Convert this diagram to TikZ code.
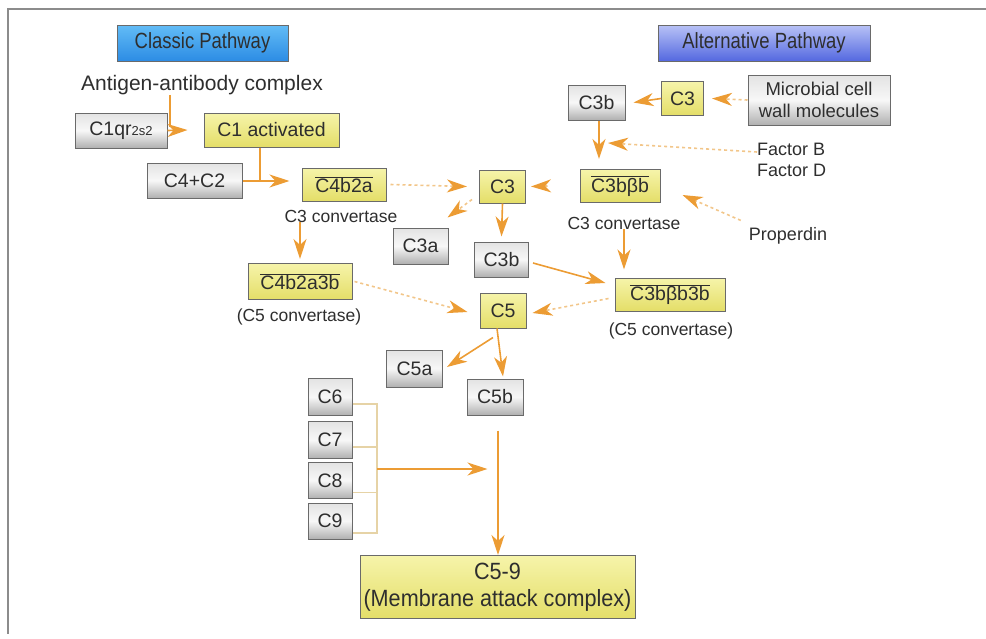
\documentclass[tikz,border=0pt]{standalone}
\usepackage{fontspec}
\setmainfont{Liberation Sans}
\newfontfamily\narrowfont[FakeStretch=0.84]{Liberation Sans}
\newfontfamily\macfont[FakeStretch=0.92]{Liberation Sans}
\usetikzlibrary{arrows.meta,calc}
\definecolor{arr}{HTML}{EC9C34}
\definecolor{arrpale}{HTML}{F2C68A}
\definecolor{brk}{HTML}{E6D3A6}
\definecolor{txt}{HTML}{2E2E2E}
\definecolor{edge}{HTML}{6A6A6A}
\definecolor{yelT}{HTML}{F6F4AA}
\definecolor{yelB}{HTML}{E4DE68}
\definecolor{frame}{HTML}{8C8C8C}
\definecolor{classT}{HTML}{62BCF6}
\definecolor{classB}{HTML}{2C8CE4}
\definecolor{altT}{HTML}{B8C2F6}
\definecolor{altB}{HTML}{5468E0}
\tikzset{
  basebox/.style={draw=edge, line width=1pt, inner sep=0pt, text=txt, align=center,
    font=\fontsize{19.5}{22}\selectfont},
  greybox/.style={basebox, top color=gray!22, bottom color=gray!62, middle color=white!94!gray},
  yelbox/.style={basebox, top color=yelT, bottom color=yelB},
  header/.style={draw=edge, line width=0.8pt, inner sep=0pt, text=txt,
    font=\narrowfont\fontsize{22}{24}\selectfont},
  label/.style={text=txt, inner sep=0pt, font=\fontsize{17.5}{20}\selectfont},
  tip/.style={-{Stealth[length=20pt,width=13pt,inset=6pt]}},
  conn/.style={draw=arr, line width=1.6pt, tip},
  faint/.style={draw=arrpale, line width=1.6pt, dash pattern=on 3pt off 3pt,
    -{Stealth[length=20pt,width=13pt,inset=6pt,color=arr]}},
  plain/.style={draw=arr, line width=1.6pt},
  bracket/.style={draw=brk, line width=1.3pt}
}
\newcommand{\ovl}[1]{$\overline{\mbox{#1}}$}
\begin{document}
\begin{tikzpicture}[x=1pt,y=-1pt]
\useasboundingbox (0,0) rectangle (986,638);
% page frame
\draw[frame, line width=2pt] (986,9) -- (8,9) -- (8,634);

% pathway headers
\node[header, top color=classT, bottom color=classB, minimum width=171pt, minimum height=36pt]
  (cp) at (202.5,43) {Classic Pathway};
\node[header, top color=altT, bottom color=altB, minimum width=212pt, minimum height=36pt]
  (ap) at (764,43) {Alternative Pathway};

% classic pathway
\node[label, font=\fontsize{21}{24}\selectfont] (ag) at (202,85) {Antigen-antibody complex};
\node[greybox, minimum width=92pt, minimum height=35pt] (c1q) at (121,130.5) {C1qr{\fontsize{13}{14}\selectfont 2s2}};
\node[yelbox, minimum width=135pt, minimum height=34pt] (c1a) at (271.5,130) {C1 activated};
\node[greybox, minimum width=95pt, minimum height=35pt] (c4c2) at (194.5,180.5) {C4+C2};
\node[yelbox, minimum width=84pt, minimum height=33pt] (c4b2a) at (344,184.5) {\ovl{C4b2a}};
\node[label] (cv1) at (341,216) {C3 convertase};
\node[yelbox, minimum width=104pt, minimum height=36pt] (c4b2a3b) at (300,281.5) {\ovl{C4b2a3b}};
\node[label] (cv5a) at (299,317) {(C5 convertase)};

% central cascade
\node[yelbox, minimum width=46pt, minimum height=33pt] (c3) at (502.5,186.5) {C3};
\node[greybox, minimum width=55pt, minimum height=36pt] (c3a) at (420.5,246) {C3a};
\node[greybox, minimum width=54pt, minimum height=35pt] (c3b) at (501.5,259.5) {C3b};
\node[yelbox, minimum width=46pt, minimum height=35pt] (c5) at (503,310.5) {C5};
\node[greybox, minimum width=56pt, minimum height=37pt] (c5a) at (414.5,368.5) {C5a};
\node[greybox, minimum width=56pt, minimum height=36pt] (c5b) at (495,397) {C5b};

% terminal components
\node[greybox, minimum width=44pt, minimum height=37pt] (c6) at (330,397) {C6};
\node[greybox, minimum width=44pt, minimum height=37pt] (c7) at (330,440) {C7};
\node[greybox, minimum width=44pt, minimum height=36pt] (c8) at (330,480.5) {C8};
\node[greybox, minimum width=44pt, minimum height=36pt] (c9) at (330,521) {C9};
\node[yelbox, minimum width=275pt, minimum height=63pt, font=\macfont\fontsize{23.5}{27}\selectfont]
  (mac) at (497.5,587) {C5-9\\(Membrane attack complex)};

% alternative pathway
\node[greybox, minimum width=57pt, minimum height=35pt] (ac3b) at (596.5,102.5) {C3b};
\node[yelbox, minimum width=42pt, minimum height=34pt] (ac3) at (682.5,98.5) {C3};
\node[greybox, minimum width=142pt, minimum height=50pt, font=\fontsize{18.5}{22}\selectfont]
  (mic) at (819,100) {Microbial cell\\wall molecules};
\node[label, anchor=west, align=left, font=\fontsize{18}{21}\selectfont] (fbd) at (757,160) {Factor B\\Factor D};
\node[yelbox, minimum width=80pt, minimum height=33pt] (c3bbb) at (620,186) {\ovl{C3bβb}};
\node[label] (cv2) at (624,223) {C3 convertase};
\node[label, font=\fontsize{18}{21}\selectfont] (prop) at (788,236) {Properdin};
\node[yelbox, minimum width=110pt, minimum height=33pt] (c3bbb3b) at (670,294.5) {\ovl{C3bβb3b}};
\node[label] (cv5b) at (671,331) {(C5 convertase)};

% junction points where side inputs join a reaction arrow
\coordinate (j1) at (170,127);
\coordinate (j2) at (260,181);
\coordinate (j3) at (599,140);
\coordinate (brkx) at (377,469);

% classic pathway connectors (canvas shifts: positive yshift is upwards)
\draw[plain] (ag.south -| j1) -- (j1);
\draw[conn] (c1q.east) -- ([xshift=-16pt]c1a.west);
\draw[plain] (c1a.south -| j2) -- (j2);
\draw[conn] (c4c2.east |- j2) -- ([xshift=-12pt]c4b2a.west |- j2);
\draw[conn] (cv1.south -| c4b2a3b) -- ([yshift=4pt]c4b2a3b.north);
\draw[faint] ([xshift=4pt]c4b2a.east) -- ([xshift=-12pt]c3.west);
\draw[faint] ([xshift=2pt]c4b2a3b.east) -- ([xshift=-12pt,yshift=-1.5pt]c5.west);

% central connectors
\draw[faint] ([xshift=-32pt]c3bbb.west) -- ([xshift=5pt]c3.east);
\draw[faint] ($(c3.south west)+(-7,-4)$) -- ($(c3a.north east)+(-1,-10)$);
\draw[conn] (c3.south) -- ([yshift=5pt]c3b.north);
\draw[conn] ([xshift=4pt,yshift=-3.5pt]c3b.east) -- ([xshift=-9pt,yshift=11.5pt]c3bbb3b.west);
\draw[faint] ([xshift=-6pt,yshift=-4pt]c3bbb3b.west) -- ([xshift=6pt,yshift=-2.5pt]c5.east);
\draw[conn] ([xshift=-10pt,yshift=-9pt]c5.south) -- ([xshift=4pt,yshift=1.5pt]c5a.east);
\draw[conn] ([xshift=-6pt]c5.south) -- ([yshift=2pt]c5b.north -| c5.south);
\draw[conn] ([xshift=3pt,yshift=-15pt]c5b.south) -- ([xshift=3pt]c5b.south |- mac.north);

% terminal bracket
\draw[bracket] ([yshift=-7pt]c6.east) -- ([yshift=-7pt]c6.east -| brkx)
  -- ([yshift=-12pt]c9.east -| brkx) -- ([yshift=-12pt]c9.east);
\draw[bracket] ([yshift=-7pt]c7.east) -- ([yshift=-7pt]c7.east -| brkx);
\draw[bracket] ([yshift=-12pt]c8.east) -- ([yshift=-12pt]c8.east -| brkx);
\draw[conn] (brkx) -- ([xshift=-10pt]brkx -| mac.north);

% alternative pathway connectors
\draw[faint] (mic.west) -- ([xshift=8pt]ac3.east);
\draw[conn] (ac3.west) -- ([xshift=8pt]ac3b.east);
\draw[conn] (ac3b.south -| j3) -- ([yshift=10pt]c3bbb.north -| j3);
\draw[faint] ([yshift=8pt]fbd.west) -- ([xshift=9pt,yshift=-3pt]j3);
\draw[faint] ([xshift=-8pt,yshift=7pt]prop.north west) -- ([xshift=22pt,yshift=-9pt]c3bbb.east);
\draw[conn] (cv2.south) -- ([yshift=8pt]c3bbb3b.north -| cv2.south);
\end{tikzpicture}
\end{document}
